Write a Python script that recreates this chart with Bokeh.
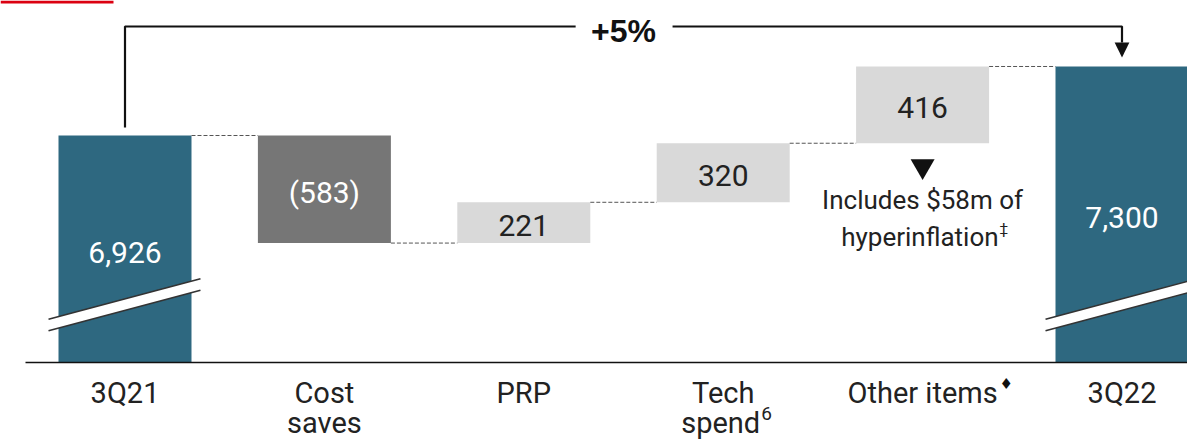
from bokeh.plotting import figure
from bokeh.models import Range1d, ColumnDataSource
from bokeh.core.properties import value
from bokeh.embed import file_html
from bokeh.resources import INLINE

# ---- data ----
categories = ["3Q21", "Cost saves", "PRP", "Tech spend", "Other items", "3Q22"]
start_value = 6926
deltas = [-583, 221, 320, 416]
end_value = 7300
value_labels = ["6,926", "(583)", "221", "320", "416", "7,300"]
label_line1 = ["3Q21", "Cost", "PRP", "Tech", "Other items", "3Q22"]
growth_label = "+5%"
note_lines = ["Includes $58m of", "hyperinflation"]

# ---- styling / layout ----
TEAL = "#2E6880"
DARK = "#767676"
LIGHT = "#D9D9D9"
FONT = value("Roboto")
W, H = 1187, 439
SLOT = 199.4               # px per category
FIRST = 124.5              # px of first category centre
UPP = 5.42                 # value units per pixel
X_MIN = -FIRST / SLOT
X_MAX = (W - FIRST) / SLOT
Y_MAX = start_value + 135 * UPP
Y_MIN = Y_MAX - H * UPP
AXIS_BASE = start_value - (362 - 135) * UPP   # visible bottom of the broken axis
BAR_W = 0.667

# ---- waterfall geometry ----
n = len(categories)
xs = list(range(n))
bottoms, tops, colors, txt_colors = [AXIS_BASE], [start_value], [TEAL], ["white"]
run = start_value
for d in deltas:
    new = run + d
    bottoms.append(min(run, new)); tops.append(max(run, new))
    colors.append(DARK if d < 0 else LIGHT)
    txt_colors.append("white" if d < 0 else "#222222")
    run = new
bottoms.append(AXIS_BASE); tops.append(end_value); colors.append(TEAL); txt_colors.append("white")
levels = [start_value]
for d in deltas:
    levels.append(levels[-1] + d)

p = figure(width=W, height=H, x_range=Range1d(X_MIN, X_MAX), y_range=Range1d(Y_MIN, Y_MAX),
           x_axis_type=None, y_axis_type=None, toolbar_location=None, output_backend="svg",
           min_border=0, outline_line_color=None, background_fill_color="white",
           border_fill_color="white")
p.grid.visible = False

src = ColumnDataSource(dict(x=xs, bottom=bottoms, top=tops, color=colors,
                            lab=value_labels, tc=txt_colors,
                            mid=[(b + t) / 2 for b, t in zip(bottoms, tops)],
                            l1=label_line1))
p.vbar(x="x", bottom="bottom", top="top", width=BAR_W, fill_color="color", line_color=None, source=src)

# dashed connectors
cx0 = [i + BAR_W / 2 for i in range(n - 1)]
cx1 = [i + 1 - BAR_W / 2 for i in range(n - 1)]
p.segment(x0=cx0, y0=levels, x1=cx1, y1=levels, line_color="#555555", line_width=1, line_dash="4 2")

# value labels
p.text(x="x", y="mid", text="lab", text_color="tc", source=src, text_font=FONT, text_font_size="30px",
       text_align="center", text_baseline="middle", y_offset=3)

# baseline
p.segment(x0=[X_MIN + 25 / SLOT], y0=[AXIS_BASE], x1=[X_MAX], y1=[AXIS_BASE],
          line_color="#111111", line_width=1.6)

# axis break marks on the first and last bars
for i in (0, n - 1):
    xl, xr = i - BAR_W / 2 - 0.05, i + BAR_W / 2 + 0.045
    yl, yr = AXIS_BASE + 37.5 * UPP, AXIS_BASE + 78 * UPP
    band = 11.5 * UPP
    p.patch(x=[xl, xr, xr, xl], y=[yl + band / 2, yr + band / 2, yr - band / 2, yl - band / 2],
            fill_color="white", line_color=None)
    p.segment(x0=[xl, xl], y0=[yl + band / 2, yl - band / 2], x1=[xr, xr], y1=[yr + band / 2, yr - band / 2],
              line_color="#333333", line_width=1.6)

# category labels
L1, L2 = 30, 60
p.text(x="x", y=AXIS_BASE, text="l1", source=src, text_font=FONT, text_font_size="29px",
       text_color="#222222", text_align="center", text_baseline="middle", y_offset=L1)
p.text(x=[1], y=[AXIS_BASE], text=["saves"], text_font=FONT, text_font_size="29px",
       text_color="#222222", text_align="center", text_baseline="middle", y_offset=L2)
p.text(x=[3], y=[AXIS_BASE], text=["spend"], text_font=FONT, text_font_size="29px",
       text_color="#222222", text_align="right", text_baseline="middle", x_offset=37, y_offset=L2)
p.text(x=[3], y=[AXIS_BASE], text=["6"], text_font=FONT, text_font_size="19px",
       text_color="#222222", text_align="left", text_baseline="middle", x_offset=38, y_offset=L2 - 9)
p.text(x=[4], y=[AXIS_BASE], text=["\u2666"], text_font=value("DejaVu Sans"), text_font_size="15px",
       text_color="#111111", text_align="left", text_baseline="middle", x_offset=77, y_offset=L1 - 9)

# note under "Other items" bar
bar4_bottom = bottoms[4]
p.scatter(x=[4], y=[bar4_bottom - 23 * UPP], marker="inverted_triangle", size=24,
          fill_color="#111111", line_color=None)
p.text(x=[4], y=[bar4_bottom], text=[note_lines[0]], text_font=FONT, text_font_size="26px",
       text_color="#222222", text_align="center", text_baseline="middle", y_offset=57)
p.text(x=[4], y=[bar4_bottom], text=[note_lines[1]], text_font=FONT, text_font_size="26px",
       text_color="#222222", text_align="right", text_baseline="middle", x_offset=76, y_offset=94)
p.text(x=[4], y=[bar4_bottom], text=["\u2021"], text_font=FONT, text_font_size="15px",
       text_color="#222222", text_align="left", text_baseline="middle", x_offset=77, y_offset=86)

# +5% bracket
top_y = start_value + 109 * UPP
left_start = start_value + 8 * UPP
tip = end_value + 9 * UPP
head_top = end_value + 24 * UPP
p.multi_line(xs=[[0, 0, 2.26], [2.746, n - 1, n - 1]],
             ys=[[left_start, top_y, top_y], [top_y, top_y, head_top]],
             line_color="#111111", line_width=2.2)
p.patch(x=[n - 1 - 0.037, n - 1 + 0.037, n - 1], y=[head_top, head_top, tip],
        fill_color="#111111", line_color=None)
p.text(x=[(n - 1) / 2], y=[top_y], text=[growth_label], text_font=value("Liberation Sans"),
       text_font_style="bold", text_font_size="32px", text_color="#111111",
       text_align="center", text_baseline="middle", y_offset=4)

# red accent at top-left
p.quad(left=[X_MIN], right=[X_MIN + 113 / SLOT], top=[Y_MAX], bottom=[Y_MAX - 3 * UPP],
       fill_color="#DB0011", line_color=None)

open("out.html", "w").write(file_html(p, INLINE))
